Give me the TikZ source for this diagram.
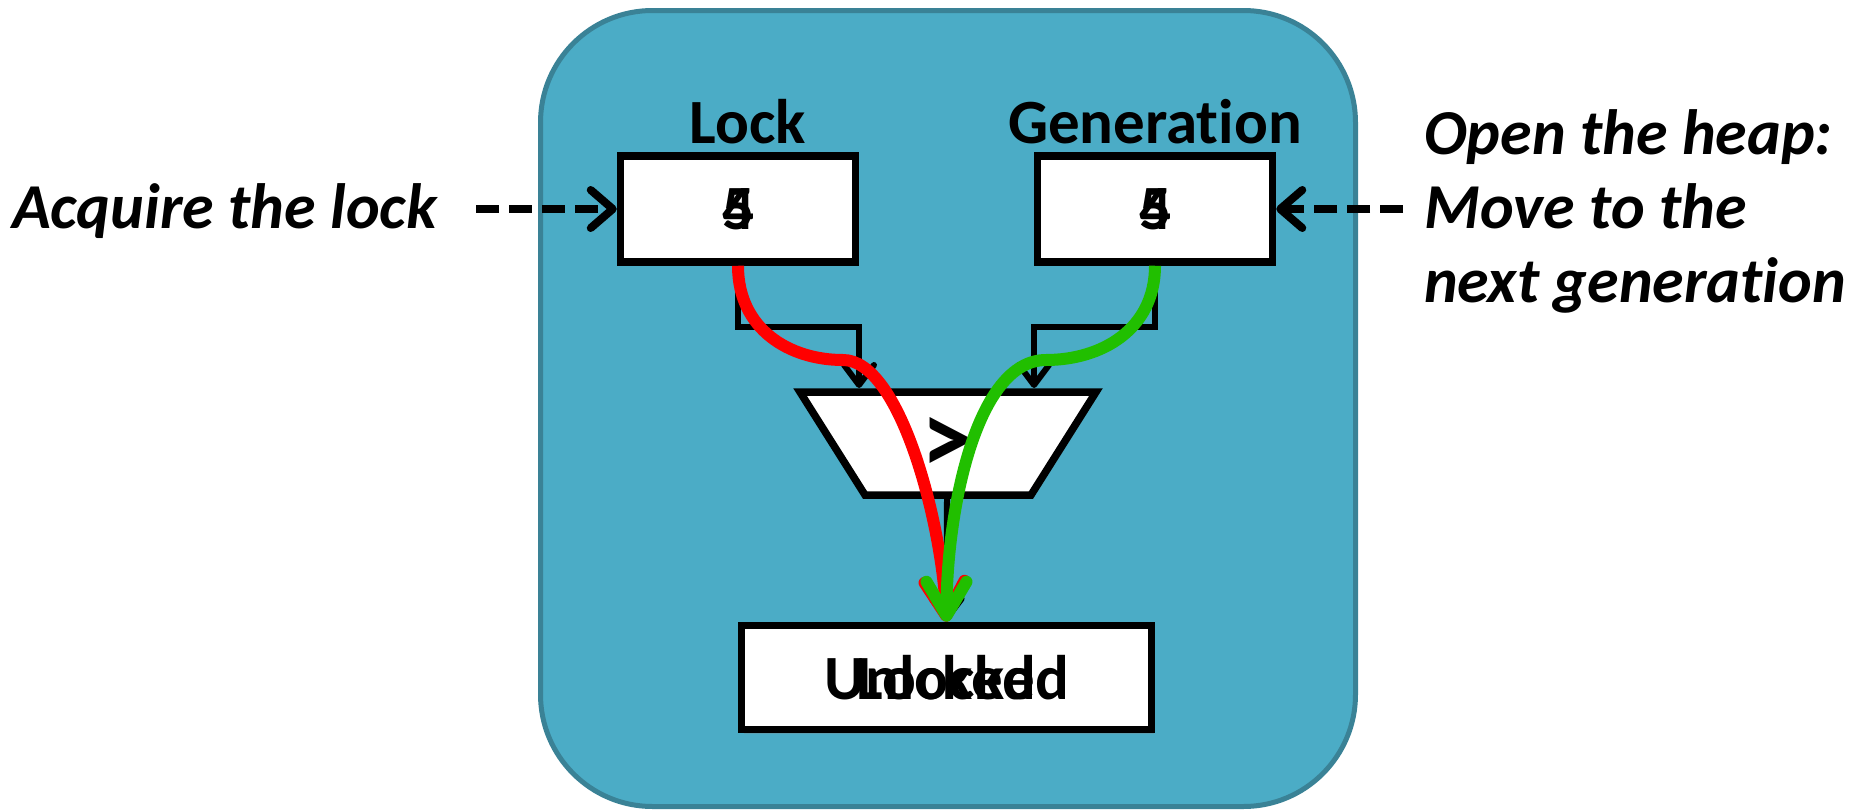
\documentclass[tikz,border=0pt]{standalone}
\usepackage{fontspec}
\setmainfont{Carlito}[Ligatures=CommonOff]
\usetikzlibrary{arrows.meta,shadows}
\definecolor{unitfill}{RGB}{75,172,198}
\definecolor{unitedge}{RGB}{58,130,150}
\definecolor{hotred}{RGB}{255,0,0}
\definecolor{gogreen}{RGB}{33,191,0}

\begin{document}
\begin{tikzpicture}[x=1pt,y=-1pt,
  every node/.style={font=\fontsize{63}{74}\selectfont\bfseries, text=black},
  sidetext/.style={font=\fontsize{64}{74}\selectfont\bfseries\itshape, anchor=base west, inner sep=0pt},
  caption/.style={anchor=base, inner sep=0pt},
  container/.style={draw=unitedge, line width=5pt, fill=unitfill, rounded corners=112pt,
    minimum width=815pt, minimum height=796pt, inner sep=0pt},
  boxshadow/.style={drop shadow={opacity=0.3, shadow xshift=2pt, shadow yshift=-4pt}},
  regbox/.style={draw=black, line width=7.5pt, fill=white, inner sep=0pt,
    minimum width=235pt, minimum height=106pt, boxshadow},
  valtext/.style={inner sep=0pt},
  cmpface/.style={draw=black, line width=7.5pt, fill=white, line join=miter, boxshadow},
  cmpsign/.style={font=\fontsize{104}{104}\selectfont\bfseries, inner sep=0pt},
  wire/.style={draw=black, line width=6pt, -{Straight Barb[length=20pt,width=30pt,round]}},
  cue/.style={draw=black, line width=8pt, dash pattern=on 23pt off 10pt,
    -{Straight Barb[length=22pt,width=38pt,round]}},
  flow/.style={line width=12pt, -{Straight Barb[length=34pt,width=40pt,round]}}
]
\useasboundingbox (0,0) rectangle (1858,811);

% the hardware unit
\node[container] (unit) at (948,408.5) {};

% registers with their captions
\node[caption] (locklabel) at (748,143) {Lock};
\node[caption] (genlabel) at (1155,143) {Generation};
\node[regbox] (lockreg) at (738,209) {4};
\node[valtext] (lockalt) at (lockreg.center) {5};
\node[regbox] (genreg) at (1155,209) {4};
\node[valtext] (genalt) at (genreg.center) {5};

% comparator body and sign
\path[cmpface] (800,392) -- (1096,392) -- (1031,495) -- (865,495) -- cycle;
\node[cmpsign] (cmp) at (947,445) {>};

% result register
\node[regbox, minimum width=410pt, minimum height=104pt] (unl) at (946.5,677.5) {Unlocked};
\node[valtext] (unlalt) at (unl.center) {Locked};

% side annotations
\node[sidetext] (acq) at (12,228) {Acquire the lock};
\node[sidetext] (heap1) at (1424,154) {Open the heap:};
\node[sidetext] (heap2) at (1424,228) {Move to the};
\node[sidetext] (heap3) at (1424,302) {next generation};

\coordinate (acqtail) at (476,209);
\coordinate (heaptail) at (1403,209);
\draw[cue] (acqtail) -- (lockreg.west);
\draw[cue] (heaptail) -- (genreg.east);

% datapath wires
\coordinate (cmpinL) at (859,388);
\coordinate (cmpinR) at (1034,388);
\coordinate (cmpout) at (947,499);
\draw[wire] (lockreg.south) -- ++(0,61.5) -| (cmpinL);
\draw[wire] (genreg.south) -- ++(0,61.5) -| (cmpinR);
\draw[wire] (cmpout) -- (unl.north);

% value flows
\coordinate (redbend) at (843,360);
\coordinate (greenbend) at (1046,360);
\draw[flow, draw=hotred] (lockreg.south) .. controls +(0,64) and +(-53,0) .. (redbend)
  .. controls +(57,0) and +(-5,-100) .. (unl.north);
\draw[flow, draw=gogreen] (genreg.south) .. controls +(0,64) and +(55,0) .. (greenbend)
  .. controls +(-70,0) and +(0,-110) .. (unl.north);
\end{tikzpicture}
\end{document}
